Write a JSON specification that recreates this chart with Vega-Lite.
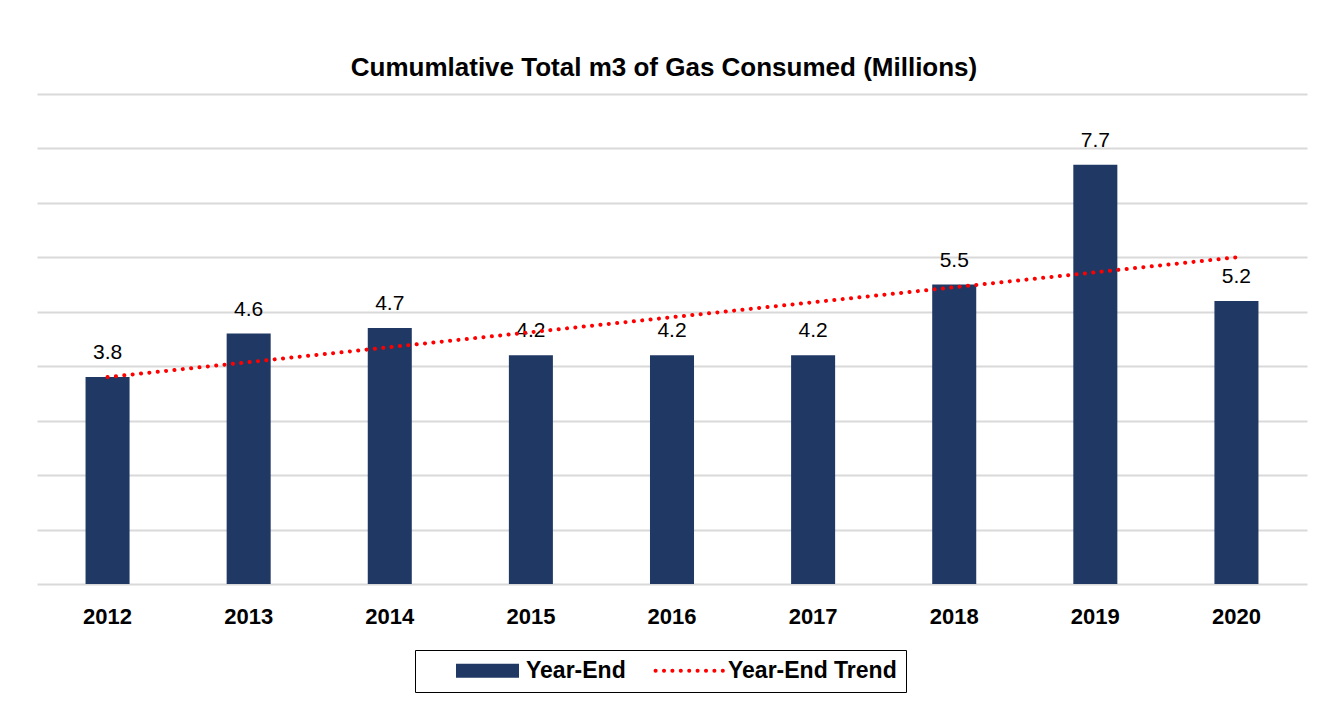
{
  "$schema": "https://vega.github.io/schema/vega-lite/v6.json",
  "width": 1270,
  "height": 490,
  "autosize": {"type": "none"},
  "padding": {"left": 37, "top": 94, "right": 28, "bottom": 126},
  "background": "white",
  "config": {"view": {"stroke": null}},
  "title": {
    "text": "Cumumlative Total m3 of Gas Consumed (Millions)",
    "font": "Liberation Sans, Arial, sans-serif",
    "fontSize": 26,
    "fontWeight": "bold",
    "color": "black",
    "anchor": "middle",
    "dx": -8,
    "offset": 13
  },
  "data": {
    "values": [
      {"year": "2012", "value": 3.8, "trend": 3.8},
      {"year": "2013", "value": 4.6, "trend": 4.075},
      {"year": "2014", "value": 4.7, "trend": 4.35},
      {"year": "2015", "value": 4.2, "trend": 4.625},
      {"year": "2016", "value": 4.2, "trend": 4.9},
      {"year": "2017", "value": 4.2, "trend": 5.175},
      {"year": "2018", "value": 5.5, "trend": 5.45},
      {"year": "2019", "value": 7.7, "trend": 5.725},
      {"year": "2020", "value": 5.2, "trend": 6.0}
    ]
  },
  "encoding": {
    "x": {
      "field": "year",
      "type": "ordinal",
      "scale": {"paddingInner": 0.688, "paddingOuter": 0.344},
      "axis": {
        "title": null,
        "domain": false,
        "ticks": false,
        "labelAngle": 0,
        "labelFont": "Liberation Sans, Arial, sans-serif",
        "labelFontSize": 22,
        "labelFontWeight": "bold",
        "labelColor": "black",
        "labelPadding": 22
      }
    }
  },
  "layer": [
    {
      "mark": {"type": "bar"},
      "encoding": {
        "y": {
          "field": "value",
          "type": "quantitative",
          "scale": {"domain": [0, 9], "nice": false},
          "axis": {
            "title": null,
            "domain": false,
            "ticks": false,
            "labels": false,
            "values": [0, 1, 2, 3, 4, 5, 6, 7, 8, 9],
            "grid": true,
            "gridColor": "#d9d9d9",
            "gridWidth": 2
          }
        },
        "color": {
          "datum": "Year-End",
          "type": "nominal",
          "scale": {"domain": ["Year-End", "Year-End Trend"], "range": ["#203864", "#ff0000"]},
          "legend": {
            "title": null,
            "orient": "none",
            "legendX": 378,
            "legendY": 556,
            "direction": "horizontal",
            "strokeColor": "black",
            "padding": 9,
            "columnPadding": -4,
            "symbolOffset": 52,
            "labelOffset": 27,
            "symbolSize": 196,
            "labelLimit": 0,
            "labelFont": "Liberation Sans, Arial, sans-serif",
            "labelFontSize": 23,
            "labelFontWeight": "bold",
            "labelColor": "black",
            "encode": {
              "symbols": {
                "update": {
                  "shape": {"signal": "datum.value === 'Year-End' ? 'M-4.5,-1H4.5V1H-4.5Z' : 'M-4.85,0H4.85'"},
                  "fill": {"signal": "datum.value === 'Year-End' ? '#203864' : 'transparent'"},
                  "stroke": {"signal": "datum.value === 'Year-End' ? 'transparent' : '#ff0000'"},
                  "strokeDash": {"signal": "datum.value === 'Year-End' ? [1, 0] : [0.1, 8.3]"},
                  "strokeWidth": {"signal": "datum.value === 'Year-End' ? 0 : 4"},
                  "strokeCap": {"value": "round"},
                  "opacity": {"value": 1}
                }
              }
            }
          }
        }
      }
    },
    {
      "mark": {
        "type": "text",
        "baseline": "bottom",
        "dy": -14,
        "font": "Liberation Sans, Arial, sans-serif",
        "fontSize": 21,
        "color": "black"
      },
      "encoding": {
        "y": {"field": "value", "type": "quantitative"},
        "text": {"field": "value", "type": "quantitative", "format": ".1f"}
      }
    },
    {
      "mark": {"type": "line", "strokeDash": [0.1, 8.3], "strokeCap": "round", "strokeWidth": 4},
      "encoding": {
        "y": {"field": "trend", "type": "quantitative"},
        "color": {"datum": "Year-End Trend", "type": "nominal"}
      }
    }
  ]
}
